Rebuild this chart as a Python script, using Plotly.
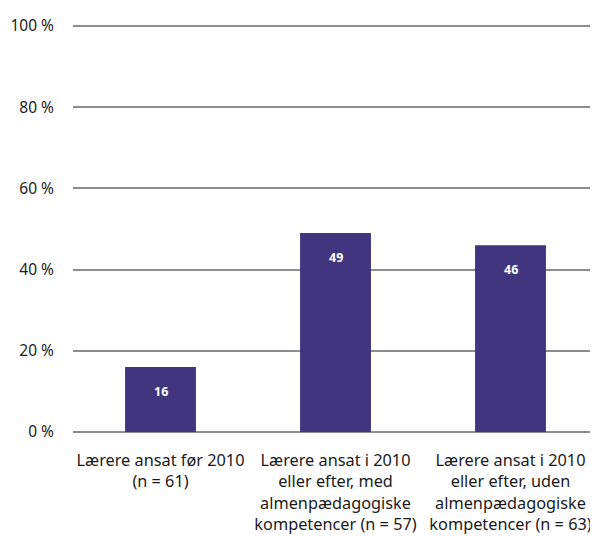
import plotly.graph_objects as go

categories = [
    "Lærere ansat før 2010<br>(n = 61)",
    "Lærere ansat i 2010<br>eller efter, med<br>almenpædagogiske<br>kompetencer (n = 57)",
    "Lærere ansat i 2010<br>eller efter, uden<br>almenpædagogiske<br>kompetencer (n = 63)",
]
values = [16, 49, 46]
tick_vals = [0, 20, 40, 60, 80, 100]
tick_text = ["0 %", "20 %", "40 %", "60 %", "80 %", "100 %"]

font_family = "Source Sans Pro, Noto Sans, sans-serif"

fig = go.Figure()
fig.add_trace(go.Bar(
    x=categories, y=values,
    marker=dict(color="#41357f", line=dict(width=0)),
    width=0.405,
    hoverinfo="skip",
))
for c, v in zip(categories, values):
    fig.add_annotation(x=c, y=v, text=f"<b>{v}</b>", showarrow=False,
                       yshift=-24, font=dict(color="white", size=12.5, family=font_family))

# page body has an 8px margin, so the figure is sized/offset to compensate
fig.update_layout(
    width=590, height=528,
    margin=dict(l=65, r=0, t=16, b=102),
    plot_bgcolor="white", paper_bgcolor="white",
    showlegend=False,
    font=dict(family=font_family, color="#1a1a1a", size=15),
)
fig.update_xaxes(showgrid=False, showline=False, ticks="", tickfont=dict(size=16.3),
                 tickangle=0, automargin=False, ticklabelstandoff=15)
fig.update_yaxes(range=[-0.5, 100.5], tickvals=tick_vals, ticktext=tick_text,
                 showgrid=True, gridcolor="#8c8c8c", gridwidth=2,
                 zeroline=True, zerolinecolor="#8c8c8c", zerolinewidth=2,
                 showline=False, ticks="", ticklabelstandoff=18,
                 tickfont=dict(size=15.5), automargin=False)

fig.write_html("out.html")
